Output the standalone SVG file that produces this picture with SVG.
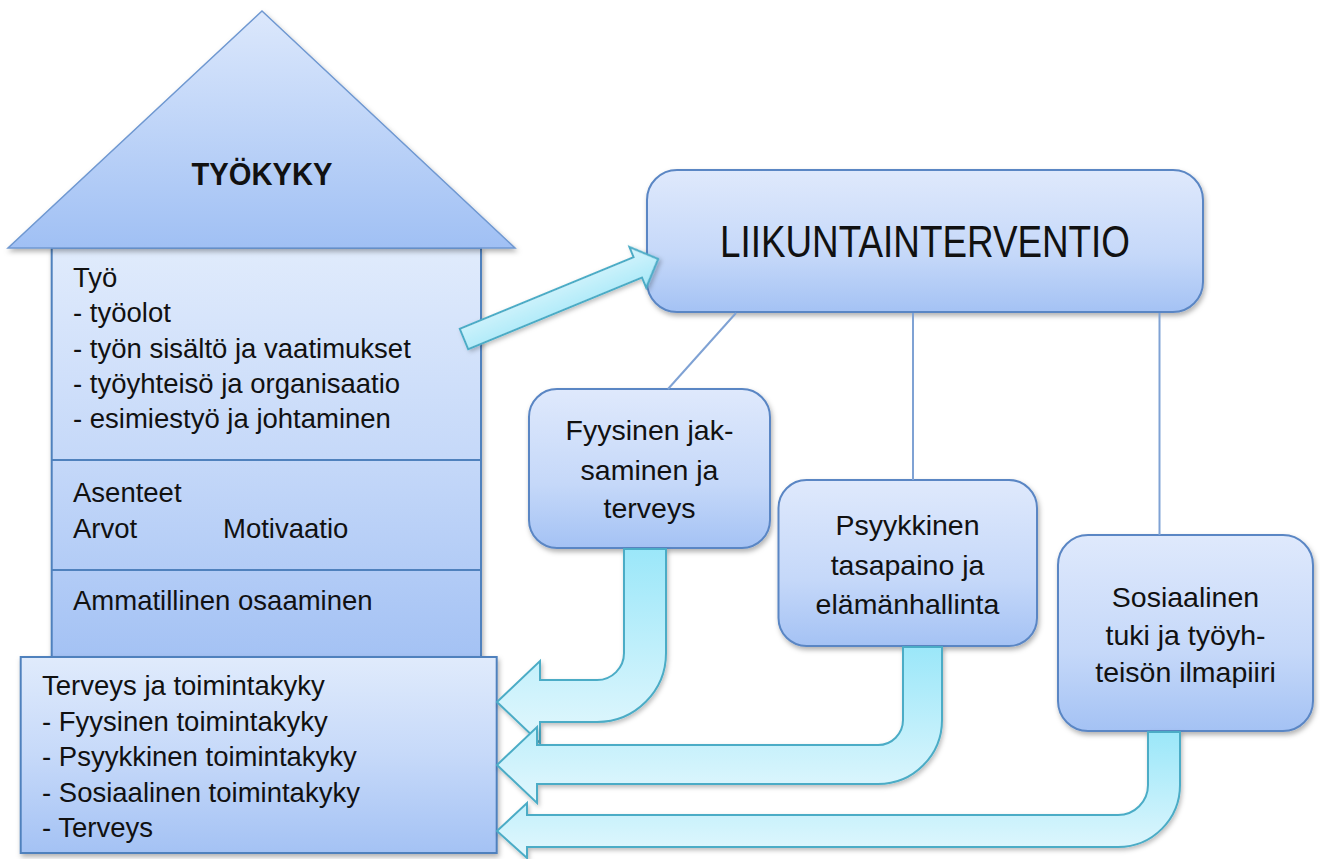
<svg xmlns="http://www.w3.org/2000/svg" width="1320" height="859" viewBox="0 0 1320 859">
<style>
  text { font-family: "Liberation Sans", Arial, sans-serif; fill: #111; }
  .t27 { font-size: 27.5px; }
  .t28 { font-size: 28.5px; text-anchor: middle; }
  .box { stroke: #5A86C4; stroke-width: 2; fill: url(#gBox); filter: url(#sh); }
  .sep { stroke: #4F81BD; stroke-width: 2; }
  .line { stroke: #7FA2D4; stroke-width: 2; fill: none; }
  .arr { fill: url(#gArr); stroke: #4BACC6; stroke-width: 2; stroke-linejoin: miter; filter: url(#sh2); }
</style>
<defs>
  <linearGradient id="gBox" x1="0" y1="0" x2="0" y2="1">
    <stop offset="0" stop-color="#DFE9FC"/>
    <stop offset="0.6" stop-color="#C5D8F9"/>
    <stop offset="1" stop-color="#A4C2F4"/>
  </linearGradient>
  <linearGradient id="gRoof" x1="0" y1="0" x2="0" y2="1">
    <stop offset="0" stop-color="#DCE8FC"/>
    <stop offset="1" stop-color="#A0C0F4"/>
  </linearGradient>
  <linearGradient id="gBody" x1="0" y1="0" x2="0" y2="1">
    <stop offset="0" stop-color="#E0EBFC"/>
    <stop offset="0.5" stop-color="#C6D9F9"/>
    <stop offset="1" stop-color="#A4C2F4"/>
  </linearGradient>
  <linearGradient id="gArr" x1="0" y1="0" x2="0" y2="1">
    <stop offset="0" stop-color="#9BE7F9"/>
    <stop offset="1" stop-color="#E2F7FD"/>
  </linearGradient>
  <linearGradient id="gArrD" x1="0" y1="0" x2="0" y2="1">
    <stop offset="0" stop-color="#D8F5FC"/>
    <stop offset="1" stop-color="#A6E8F8"/>
  </linearGradient>
  <filter id="sh" x="-10%" y="-10%" width="125%" height="130%">
    <feDropShadow dx="1.5" dy="3" stdDeviation="2.5" flood-color="#000" flood-opacity="0.3"/>
  </filter>
  <filter id="sh2" x="-10%" y="-10%" width="125%" height="130%">
    <feDropShadow dx="1.5" dy="2.5" stdDeviation="2" flood-color="#000" flood-opacity="0.25"/>
  </filter>
</defs>

<rect width="1320" height="859" fill="#FFFFFF"/>

<g id="house">
  <rect x="51.7" y="248" width="429.3" height="409" fill="url(#gBody)" stroke="#4F81BD" stroke-width="2" filter="url(#sh)"/>
  <polygon points="262,11 515,248 8,248" fill="url(#gRoof)" stroke="#6F98D1" stroke-width="1.5" filter="url(#sh)"/>
  <line class="sep" x1="51.7" y1="460" x2="481" y2="460"/>
  <line class="sep" x1="51.7" y1="570" x2="481" y2="570"/>
  <text x="262" y="185" text-anchor="middle" font-weight="bold" font-size="32" textLength="141" lengthAdjust="spacingAndGlyphs">TYÖKYKY</text>
  <text class="t27" x="73" y="287">Työ</text>
  <text class="t27" x="73" y="322">- työolot</text>
  <text class="t27" x="73" y="357.5">- työn sisältö ja vaatimukset</text>
  <text class="t27" x="73" y="393">- työyhteisö ja organisaatio</text>
  <text class="t27" x="73" y="428">- esimiestyö ja johtaminen</text>
  <text class="t27" x="73" y="502">Asenteet</text>
  <text class="t27" x="73" y="538">Arvot</text>
  <text class="t27" x="223" y="538">Motivaatio</text>
  <text class="t27" x="73" y="610">Ammatillinen osaaminen</text>
</g>

<g id="terveys">
  <rect x="20.7" y="657" width="476" height="196" fill="url(#gBody)" stroke="#4F81BD" stroke-width="2" filter="url(#sh)"/>
  <text class="t27" x="42" y="695">Terveys ja toimintakyky</text>
  <text class="t27" x="42" y="730.5">- Fyysinen toimintakyky</text>
  <text class="t27" x="42" y="766">- Psyykkinen toimintakyky</text>
  <text class="t27" x="42" y="801.5">- Sosiaalinen toimintakyky</text>
  <text class="t27" x="42" y="837">- Terveys</text>
</g>

<g id="liikuntainterventio">
  <rect class="box" x="647" y="170" width="556" height="142" rx="30" ry="30"/>
  <text x="925" y="257" text-anchor="middle" font-size="44" textLength="410" lengthAdjust="spacingAndGlyphs">LIIKUNTAINTERVENTIO</text>
</g>

<g id="fyysinen">
  <rect class="box" x="529" y="389" width="241" height="159" rx="28" ry="28"/>
  <text class="t28" x="649.5" y="440">Fyysinen jak-</text>
  <text class="t28" x="649.5" y="480">saminen ja</text>
  <text class="t28" x="649.5" y="518">terveys</text>
</g>

<g id="psyykkinen">
  <rect class="box" x="778.5" y="480" width="258.5" height="166" rx="28" ry="28"/>
  <text class="t28" x="907.5" y="535">Psyykkinen</text>
  <text class="t28" x="907.5" y="575">tasapaino ja</text>
  <text class="t28" x="907.5" y="614">elämänhallinta</text>
</g>

<g id="sosiaalinen">
  <rect class="box" x="1058" y="535" width="255" height="196" rx="30" ry="30"/>
  <text class="t28" x="1185.5" y="607">Sosiaalinen</text>
  <text class="t28" x="1185.5" y="645">tuki ja työyh-</text>
  <text class="t28" x="1185.5" y="682">teisön ilmapiiri</text>
</g>

<g id="connectors">
  <line class="line" x1="736" y1="313" x2="668" y2="389"/>
  <line class="line" x1="913" y1="313" x2="913" y2="480"/>
  <line class="line" x1="1159.5" y1="313" x2="1159.5" y2="535"/>
  <path class="arr" d="M624,549 L666,549 L666,653 A69,69 0 0 1 597,722 L540,722 L540,743 L497,702 L540,661 L540,680 L597,680 A27,27 0 0 0 624,653 Z"/>
  <path class="arr" d="M903,647 L942,647 L942,720 A64,64 0 0 1 878,784 L537,784 L537,803 L497,765 L537,727 L537,745 L878,745 A25,25 0 0 0 903,720 Z"/>
  <path class="arr" d="M1148,732 L1180,732 L1180,785 A62,62 0 0 1 1118,847 L527,847 L527,858 L497,831 L527,803 L527,815 L1118,815 A30,30 0 0 0 1148,785 Z"/>
  <g transform="translate(464,339) rotate(-22.4)">
    <polygon points="0,-11 188,-11 188,-22 210,0 188,22 188,11 0,11" fill="url(#gArrD)" stroke="#4BACC6" stroke-width="2" filter="url(#sh2)"/>
  </g>
</g>
</svg>
